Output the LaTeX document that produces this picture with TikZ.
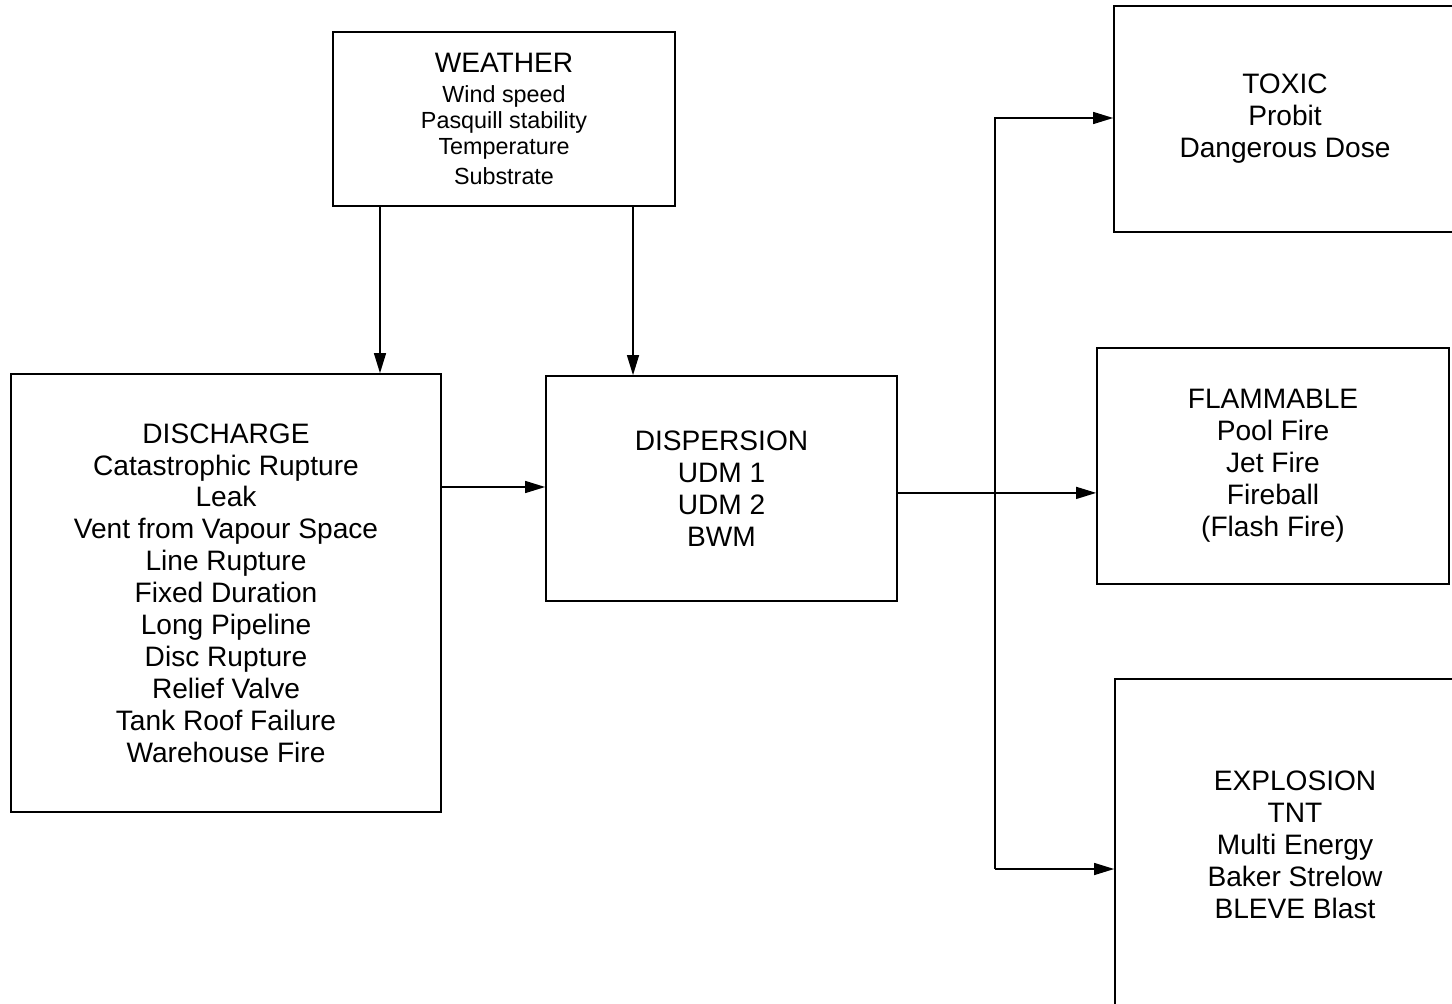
\documentclass[tikz,border=0pt]{standalone}
\usepackage{fontspec}
\setmainfont{Liberation Sans}
\usetikzlibrary{arrows.meta, positioning}

\begin{document}
\begin{tikzpicture}[
    x=0.25mm, y=-0.25mm,
    font=\fontsize{20}{22.7}\selectfont,
    box/.style={rectangle, draw=black, line width=1.2pt, align=center, inner sep=0pt},
    link/.style={line width=0.9pt, -{Triangle[length=5mm, width=3mm]}},
]
\clip (0,0) rectangle (1452,1003);

% inputs
\node[box, minimum width=85.5mm, minimum height=43.5mm,
      font=\fontsize{16.6}{18.5}\selectfont] (weather) at (504,119)
    {{\fontsize{20}{18.5}\selectfont WEATHER}\\[2.8pt] Wind speed\\ Pasquill stability\\
     Temperature\\[2.8pt] Substrate};
\node[box, minimum width=107.5mm, minimum height=109.5mm] (discharge) at (226,593)
    {DISCHARGE\\ Catastrophic Rupture\\ Leak\\ Vent from Vapour Space\\ Line Rupture\\
     Fixed Duration\\ Long Pipeline\\ Disc Rupture\\ Relief Valve\\ Tank Roof Failure\\
     Warehouse Fire};
\node[box, minimum width=87.75mm, minimum height=56.25mm] (dispersion) at (721.5,488.5)
    {DISPERSION\\ UDM 1\\ UDM 2\\ BWM};

% consequences
\node[box, minimum width=85.5mm, minimum height=56.5mm] (toxic) at (1285,119)
    {TOXIC\\ Probit\\ Dangerous Dose};
\node[box, minimum width=88mm, minimum height=59mm] (flammable) at (1273,466)
    {FLAMMABLE\\ Pool Fire\\ Jet Fire\\ Fireball\\ (Flash Fire)};
\node[box, minimum width=90mm, minimum height=83mm] (explosion) at (1295,845)
    {EXPLOSION\\ TNT\\ Multi Energy\\ Baker Strelow\\ BLEVE Blast};

% links
\draw[link] ([xshift=-31mm]weather.south) -- ([xshift=-31mm]weather.south |- discharge.north);
\draw[link] ([xshift=32.25mm]weather.south) -- ([xshift=32.25mm]weather.south |- dispersion.north);
\draw[link] ([yshift=26.5mm]discharge.east) -- ([yshift=26.5mm]discharge.east -| dispersion.west);
\draw[link] ([yshift=-1.1mm]dispersion.east) -- ([yshift=-1.1mm]dispersion.east -| flammable.west);

\coordinate (bus) at (995,869);
\draw[link] (bus) |- ([yshift=0.25mm]toxic.west);
\draw[link] (bus) -- (bus -| explosion.west);
\end{tikzpicture}
\end{document}
